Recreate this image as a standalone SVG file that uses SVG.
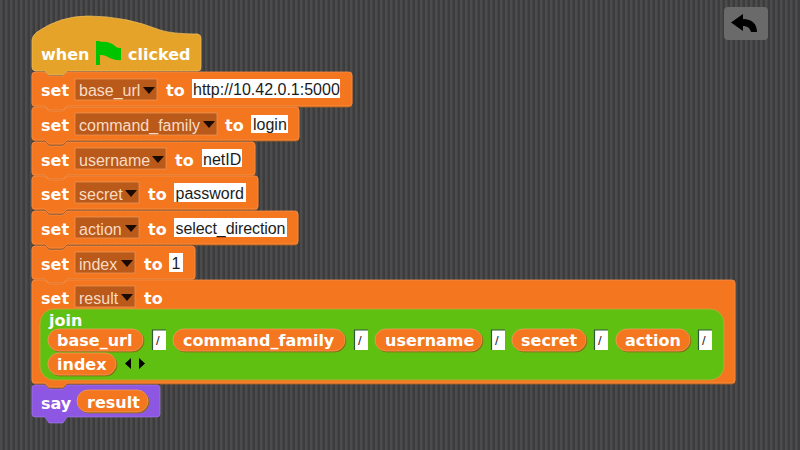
<svg xmlns="http://www.w3.org/2000/svg" width="800" height="450" viewBox="0 0 800 450">
<defs>
<pattern id="stripes" width="5" height="5" patternUnits="userSpaceOnUse">
<rect width="5" height="5" fill="#3c3c3e"/>
<rect x="0" width="2.500" height="5" fill="#4c4c4c"/>
</pattern>
<path id="tri" d="M0 0H12L6 7Z" fill="#1a0a00"/>
</defs>
<style>
.o{fill:#f4761e;stroke:#f78f47;stroke-width:.8;filter:drop-shadow(0 1px 0 #b95f1a)}
.k{font-family:"DejaVu Sans",Verdana,sans-serif;font-weight:700;font-size:16px;fill:#fff}
.dd{fill:#b9591a;stroke:#ee9a5c;stroke-width:.7}
.ddt{font-family:"Liberation Sans",Arial,sans-serif;font-size:16px;fill:#fbdcc3}
.in{fill:#fff}
.int{font-family:"Liberation Sans",Arial,sans-serif;font-size:16px;fill:#1c1c1c}
.sl{fill:#fff}
.sle{fill:none;stroke:#2f5a3a;stroke-width:1.200}
.slt{font-family:"Liberation Sans",Arial,sans-serif;font-size:13px;fill:#223}
.pill{fill:#f4761e;stroke:#f2a060;stroke-width:.7;filter:drop-shadow(1px 1px 0 #8f6a10)}
</style>
<rect width="800" height="450" fill="url(#stripes)"/>

<g id="back-button">
<rect x="724" y="7" width="44" height="33" rx="4" fill="#6a6a6a"/>
<path d="M731 22.500L743 14V19C752 19 757 24 757 32H751C750 28 747 26 743 26V31Z" fill="#000"/>
</g>

<g id="when-clicked">
<path d="M32 40Q32 36 37 32Q60 16 88 16Q125 16 160 30Q172 34 198 34Q201 35 201 38V67Q201 71 198 71H67L63 75H49L45 71H36Q32 71 32 67Z" fill="#e5a429" stroke="#f0bf62" stroke-width=".7"/>
<text class="k" x="41" y="60">when</text>
<path d="M96 41H100V65H96ZM100 42C106 41 112 43 115 46C117 48 119 48 121 48V60C115 61 110 58 106 56C104 55 102 55 100 55Z" fill="#00c400"/>
<text class="k" x="128" y="60">clicked</text>
</g>

<g id="set-base-url">
<path class="o" d="M32 75Q32 72 35 72H45L49 76H63L67 72H349Q352 72 352 75V103Q352 106 349 106H67L63 110H49L45 106H35Q32 106 32 103Z"/>
<text class="k" x="41" y="96">set</text>
<rect class="dd" x="75" y="79" width="82" height="21"/>
<text class="ddt" x="79" y="96">base_url</text>
<use href="#tri" x="143" y="87"/>
<text class="k" x="166" y="96">to</text>
<rect class="in" x="192" y="79" width="148" height="19"/>
<text class="int" x="193" y="95">http://10.42.0.1:5000</text>
</g>

<g id="set-command-family">
<path class="o" d="M32 110Q32 107 35 107H45L49 111H63L67 107H296Q299 107 299 110V137Q299 140 296 140H67L63 144H49L45 140H35Q32 140 32 137Z"/>
<text class="k" x="41" y="131">set</text>
<rect class="dd" x="75" y="113" width="142" height="22"/>
<text class="ddt" x="79" y="131">command_family</text>
<use href="#tri" x="203" y="121"/>
<text class="k" x="225" y="131">to</text>
<rect class="in" x="251" y="115" width="37" height="18"/>
<text class="int" x="253" y="130">login</text>
</g>

<g id="set-username">
<path class="o" d="M32 145Q32 142 35 142H45L49 146H63L67 142H252Q255 142 255 145V172Q255 175 252 175H67L63 179H49L45 175H35Q32 175 32 172Z"/>
<text class="k" x="41" y="166">set</text>
<rect class="dd" x="75" y="148" width="91" height="21"/>
<text class="ddt" x="79" y="166">username</text>
<use href="#tri" x="152" y="156"/>
<text class="k" x="175" y="166">to</text>
<rect class="in" x="202" y="149" width="40" height="18"/>
<text class="int" x="203" y="165">netID</text>
</g>

<g id="set-secret">
<path class="o" d="M32 179Q32 176 35 176H45L49 180H63L67 176H255Q258 176 258 179V206Q258 209 255 209H67L63 213H49L45 209H35Q32 209 32 206Z"/>
<text class="k" x="41" y="200">set</text>
<rect class="dd" x="75" y="182" width="64" height="21"/>
<text class="ddt" x="79" y="200">secret</text>
<use href="#tri" x="125" y="190"/>
<text class="k" x="148" y="200">to</text>
<rect class="in" x="174" y="183" width="72" height="19"/>
<text class="int" x="175.500" y="199">password</text>
</g>

<g id="set-action">
<path class="o" d="M32 214Q32 211 35 211H45L49 215H63L67 211H295Q298 211 298 214V241Q298 244 295 244H67L63 248H49L45 244H35Q32 244 32 241Z"/>
<text class="k" x="41" y="235">set</text>
<rect class="dd" x="75" y="217" width="64" height="21"/>
<text class="ddt" x="79" y="235">action</text>
<use href="#tri" x="125" y="225"/>
<text class="k" x="148" y="235">to</text>
<rect class="in" x="174" y="218" width="113" height="19"/>
<text class="int" x="175.500" y="234" textLength="110">select_direction</text>
</g>

<g id="set-index">
<path class="o" d="M32 249Q32 246 35 246H45L49 250H63L67 246H192Q195 246 195 249V276Q195 279 192 279H67L63 283H49L45 279H35Q32 279 32 276Z"/>
<text class="k" x="41" y="270">set</text>
<rect class="dd" x="75" y="252" width="60" height="21"/>
<text class="ddt" x="79" y="270">index</text>
<use href="#tri" x="121" y="260"/>
<text class="k" x="144" y="270">to</text>
<rect class="in" x="169" y="253" width="14" height="19"/>
<text class="int" x="171.500" y="269">1</text>
</g>

<g id="set-result">
<path class="o" d="M32 283Q32 280 35 280H45L49 284H63L67 280H732Q735 280 735 283V380Q735 383 732 383H67L63 387H49L45 383H35Q32 383 32 380Z"/>
<text class="k" x="41" y="304">set</text>
<rect class="dd" x="75" y="286" width="60" height="21"/>
<text class="ddt" x="79" y="304">result</text>
<use href="#tri" x="121" y="294"/>
<text class="k" x="144" y="304">to</text>
</g>

<g id="join">
<rect x="40" y="309" width="684" height="71" rx="14" fill="#5fc012" stroke="#c9a63c" stroke-width=".8"/>
<text class="k" x="49" y="326">join</text>
<g id="var-base-url"><rect class="pill" x="48" y="329" width="95" height="22" rx="11"/><text class="k" x="57" y="346">base_url</text></g>
<rect class="sl" x="152" y="330" width="14" height="20"/><path class="sle" d="M152.500 350V330H166"/><text class="slt" x="156" y="345">/</text>
<g id="var-command-family"><rect class="pill" x="173" y="329" width="172" height="22" rx="11"/><text class="k" x="183" y="346">command_family</text></g>
<rect class="sl" x="354" y="330" width="14" height="20"/><path class="sle" d="M354.500 350V330H368"/><text class="slt" x="358" y="345">/</text>
<g id="var-username"><rect class="pill" x="375" y="329" width="107" height="22" rx="11"/><text class="k" x="385" y="346">username</text></g>
<rect class="sl" x="491" y="330" width="14" height="20"/><path class="sle" d="M491.500 350V330H505"/><text class="slt" x="495" y="345">/</text>
<g id="var-secret"><rect class="pill" x="512" y="329" width="74" height="22" rx="11"/><text class="k" x="521" y="346">secret</text></g>
<rect class="sl" x="594" y="330" width="14" height="20"/><path class="sle" d="M594.500 350V330H608"/><text class="slt" x="598" y="345">/</text>
<g id="var-action"><rect class="pill" x="616" y="329" width="74" height="22" rx="11"/><text class="k" x="625" y="346">action</text></g>
<rect class="sl" x="698" y="330" width="14" height="20"/><path class="sle" d="M698.500 350V330H712"/><text class="slt" x="702" y="345">/</text>
<g id="var-index"><rect class="pill" x="48" y="353" width="68" height="22" rx="11"/><text class="k" x="57" y="370">index</text></g>
<path d="M131 358V369L125 363.500ZM139 358V369L145 363.500Z" fill="#000"/>
</g>

<g id="say">
<path d="M32 388Q32 385 35 385H45L49 389H63L67 385H157Q160 385 160 388V414Q160 417 157 417H67L63 423H49L45 417H35Q32 417 32 414Z" fill="#8e57e3" stroke="#a57cea" stroke-width=".6"/>
<text class="k" x="41" y="409">say</text>
<g id="var-result"><rect class="pill" x="77" y="390" width="71" height="22" rx="11"/><text class="k" x="87" y="408">result</text></g>
</g>
<g id="connectors"/>
</svg>
